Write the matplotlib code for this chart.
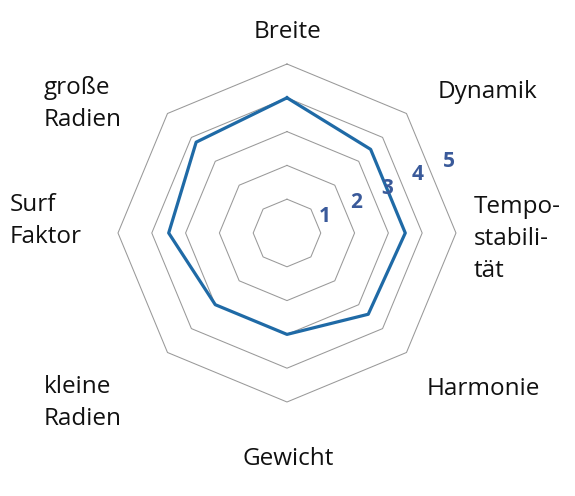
import numpy as np
import matplotlib
matplotlib.use("Agg")
import matplotlib.pyplot as plt

# Kategorien im Uhrzeigersinn, oben beginnend
kategorien = ["Breite", "Dynamik", "Tempo-\nstabili-\ntät", "Harmonie",
              "Gewicht", "kleine\nRadien", "Surf\nFaktor", "große\nRadien"]
werte = [4.0, 3.5, 3.5, 3.4, 3.0, 3.0, 3.5, 3.8]
stufen = [1, 2, 3, 4, 5]

plt.rcParams["font.family"] = ["Open Sans", "DejaVu Sans"]

fig = plt.figure(figsize=(5.75, 4.96), dpi=100)
ax = fig.add_axes([0.2052, 0.1895, 0.5878, 0.6815], polar=True)
ax.set_theta_zero_location("N")
ax.set_theta_direction(-1)
ax.set_ylim(0, 5)
ax.axis("off")

winkel = np.linspace(0, 2 * np.pi, len(kategorien), endpoint=False)
winkel_zu = np.append(winkel, winkel[0])

# Achteckiges Gitter
for s in stufen:
    ax.plot(winkel_zu, [s] * len(winkel_zu), color="#999999", lw=0.75,
            clip_on=False)

# Datenlinie
ax.plot(winkel_zu, werte + werte[:1], color="#1f6aa6", lw=2.3,
        clip_on=False, zorder=3)

# Stufenbeschriftung
for s in stufen:
    ax.text(np.deg2rad(66), s + 0.23, str(s), color="#3a5a9a",
            fontsize=15, fontweight="bold", ha="center", va="center",
            zorder=4)

# Achsenbeschriftungen (Pixelpositionen im Bild)
positionen = [(288, 32, "center"), (438, 92, "left"), (474, 239, "left"),
              (427, 389, "left"), (288, 459, "center"), (44, 403, "left"),
              (10, 221, "left"), (44, 104, "left")]
for text, (x, y, ha) in zip(kategorien, positionen):
    fig.text(x / 575, 1 - y / 496, text, ha=ha, va="center", fontsize=17.5,
             color="#111111", linespacing=1.45)

fig.savefig("out.png", dpi=100, facecolor="white")
